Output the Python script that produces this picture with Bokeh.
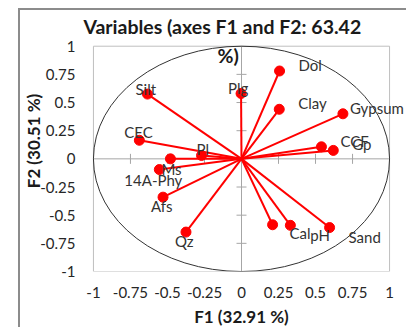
import math
from bokeh.plotting import figure
from bokeh.models import Label, LabelSet, FixedTicker, ColumnDataSource
from bokeh.core.properties import value
from bokeh.embed import file_html
from bokeh.resources import INLINE

# ---- data ----
names = ["Dol", "Plg", "Silt", "Clay", "Gypsum", "CEC", "CCF", "Gp",
         "Pl", "Ms", "14A-Phy", "Afs", "Qz", "Cal", "pH", "Sand"]
f1 = [0.257, -0.003, -0.635, 0.255, 0.685, -0.69, 0.54, 0.62,
      -0.27, -0.48, -0.555, -0.53, -0.375, 0.21, 0.33, 0.595]
f2 = [0.78, 0.58, 0.575, 0.44, 0.40, 0.165, 0.107, 0.075,
      0.03, 0.0, -0.095, -0.34, -0.65, -0.585, -0.59, -0.61]
ticks = [-1, -0.75, -0.5, -0.25, 0, 0.25, 0.5, 0.75, 1]
tick_labels = ["-1", "-0.75", "-0.5", "-0.25", "0", "0.25", "0.5", "0.75", "1"]
title_line1 = "Variables (axes F1 and F2: 63.42"
title_line2 = "%)"
x_title = "F1 (32.91 %)"
y_title = "F2 (30.51 %)"

# ---- label placement (pixels, layout only; +dy = up) ----
label_dx = [19, -13, -12, 19, 7, -15, 19, 19, -5, -9, -35, -12, -11, 17, 20, 19]
label_dy = [6, 6, 5, 6, 6, 8, 6, 6, 6, -10, -10, -9, -9, -8, -10, -9]

FONT = "Lato"
RED = "#ff0000"
lo, hi = ticks[0], ticks[-1]

p = figure(width=388, height=319, output_backend="svg", toolbar_location=None,
           x_range=(-1.128, 1.128), y_range=(-1, 1.317),
           min_border_left=54, min_border_right=0,
           min_border_top=0, min_border_bottom=56)
p.styles = {"margin-left": "18px", "margin-top": "8px",
            "border-left": "2px solid #8c8c8c", "border-top": "2px solid #8c8c8c"}
p.background_fill_color = "white"
p.border_fill_color = "white"
p.outline_line_color = None
p.xgrid.visible = False
p.ygrid.visible = False

overrides = {t: s for t, s in zip(ticks, tick_labels)}
for ax in (p.xaxis[0], p.yaxis[0]):
    ax.ticker = FixedTicker(ticks=ticks)
    ax.major_label_overrides = overrides
    ax.axis_line_color = None
    ax.major_tick_line_color = None
    ax.minor_tick_line_color = None
    ax.major_tick_out = 0
    ax.major_tick_in = 0
    ax.major_label_text_font = FONT
    ax.major_label_text_font_size = "15px"
    ax.major_label_text_color = "#262626"
    ax.axis_label_text_font = FONT
    ax.axis_label_text_font_size = "17px"
    ax.axis_label_text_font_style = "bold"
    ax.axis_label_text_color = "#1a1a1a"

p.xaxis.axis_label = x_title
p.yaxis.axis_label = y_title
p.xaxis.major_label_standoff = 15
p.xaxis.axis_label_standoff = 5
p.yaxis.major_label_standoff = -1
p.yaxis.axis_label_standoff = -7

# plot-area box
p.quad(left=lo, right=hi, bottom=lo, top=hi, fill_color=None,
       line_color="#bfbfbf", line_width=1, level="underlay")

# zero lines with cross ticks
inner = [t for t in ticks if t not in (0, lo, hi)]
p.segment(x0=[0], y0=[lo], x1=[0], y1=[hi], line_color="#a6a6a6", line_width=1,
          level="underlay")
p.segment(x0=[lo], y0=[0], x1=[hi], y1=[0], line_color="#a6a6a6", line_width=1,
          level="underlay")
p.scatter(x=[0] * len(inner), y=inner, marker="dash", size=10,
          line_color="#a6a6a6", line_width=1, level="underlay")
p.scatter(x=inner, y=[0] * len(inner), marker="dash", size=10, angle=math.pi / 2,
          line_color="#a6a6a6", line_width=1, level="underlay")

# correlation circle
p.ellipse(x=0, y=0, width=hi - lo, height=hi - lo, fill_color=None,
          line_color="#333333", line_width=1)

src = ColumnDataSource(dict(x0=[0] * len(f1), y0=[0] * len(f2), x=f1, y=f2,
                            name=names, dx=label_dx, dy=label_dy))
p.segment(x0="x0", y0="y0", x1="x", y1="y", source=src,
          line_color=RED, line_width=2)
p.scatter(x="x", y="y", source=src, size=10, fill_color=RED, line_color=RED)

p.add_layout(LabelSet(x="x", y="y", text="name", x_offset="dx", y_offset="dy",
                      source=src, text_align="left", text_baseline="middle",
                      text_font=value(FONT), text_font_size="15px",
                      text_color="#333333"))

p.add_layout(Label(x=-1.068, y=1.176, text=title_line1, text_align="left",
                   text_baseline="middle", text_font=FONT, text_font_size="19.5px",
                   text_font_style="bold", text_color="#1a1a1a"))
p.add_layout(Label(x=-0.09, y=0.92, text=title_line2, text_align="center",
                   text_baseline="middle", text_font=FONT, text_font_size="19.5px",
                   text_font_style="bold", text_color="#1a1a1a"))

open("out.html", "w").write(file_html(p, INLINE))
